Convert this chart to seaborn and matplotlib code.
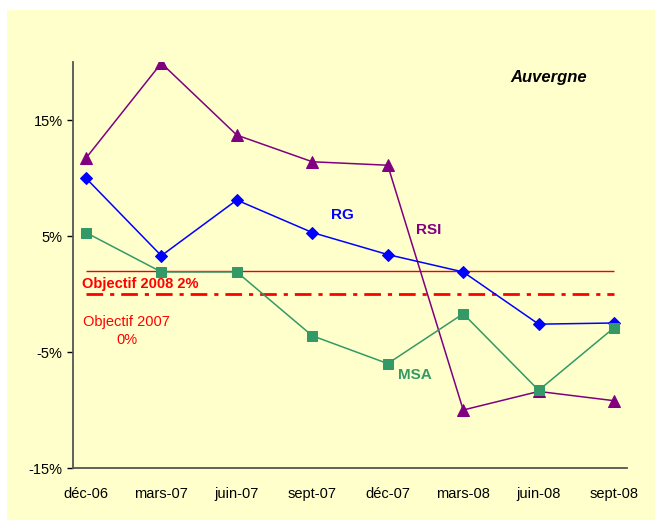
import matplotlib
matplotlib.use("Agg")
import matplotlib.pyplot as plt
import matplotlib.patches as mpatches
import seaborn as sns
import pandas as pd
import numpy as np

periods = ["déc-06", "mars-07", "juin-07", "sept-07", "déc-07", "mars-08", "juin-08", "sept-08"]
rsi = [11.7, 19.9, 13.7, 11.4, 11.1, -10.0, -8.4, -9.2]
rg = [10.0, 3.3, 8.1, 5.3, 3.4, 1.9, -2.6, -2.5]
msa = [5.3, 1.9, 1.9, -3.6, -6.0, -1.7, -8.3, -2.9]
objectif_2008 = 2.0
objectif_2007 = 0.0
yticks = [-15, -5, 5, 15]

sns.set_theme(style="white")
plt.rcParams["font.family"] = ["Liberation Sans", "DejaVu Sans"]

bg = "#FFFFCC"
fig = plt.figure(figsize=(6.55, 5.2), dpi=100)
fig.patch.set_facecolor("white")
fig.patches.append(mpatches.Rectangle((7 / 655, 0), 1 - 7 / 655, 1 - 10 / 520,
                                      transform=fig.transFigure, facecolor=bg,
                                      edgecolor="none", zorder=-10))
ax = fig.add_axes([73 / 655, 1 - 468 / 520, (627 - 73) / 655, (468 - 62) / 520])
ax.set_facecolor(bg)

x = np.arange(len(periods))
df = pd.DataFrame({"x": np.tile(x, 3),
                   "v": rsi + rg + msa,
                   "s": ["RSI"] * 8 + ["RG"] * 8 + ["MSA"] * 8})

styles = {"RSI": ("#800080", "^", 8), "RG": ("#0000FF", "D", 6), "MSA": ("#339966", "s", 6.5)}
for name, (col, mk, ms) in styles.items():
    sub = df[df["s"] == name]
    sns.lineplot(data=sub, x="x", y="v", ax=ax, color=col, marker=mk, markersize=ms,
                 markeredgecolor=col, linewidth=1.1, legend=False, zorder=3)

ax.hlines(objectif_2008, 0, len(periods) - 1, color="#E8000B", linewidth=1.0, zorder=2)
ax.hlines(objectif_2007, 0, len(periods) - 1, color="#FF0000", linewidth=2.0,
          linestyles=(0, (6, 2.5, 1.5, 2.5)), zorder=2)

ax.set_xlim(-0.17, 7.17)
ax.set_ylim(-15, 20)
ax.set_xticks(x)
ax.set_xticklabels(periods)
ax.set_yticks(yticks)
ax.set_yticklabels([f"{t}%" for t in yticks])
ax.tick_params(axis="x", length=0, labelsize=10.5, pad=14, colors="black")
ax.tick_params(axis="y", length=4, width=1, direction="out", labelsize=10.5, colors="black", left=True)
ax.set_xlabel("")
ax.set_ylabel("")
for side in ["top", "right"]:
    ax.spines[side].set_visible(False)
for side in ["left", "bottom"]:
    ax.spines[side].set_color("#555555")
    ax.spines[side].set_linewidth(1.3)

ax.text(3.4, 6.8, "RG", color="#0000FF", fontsize=11, fontweight="bold", ha="center", va="center")
ax.text(4.54, 5.5, "RSI", color="#800080", fontsize=11, fontweight="bold", ha="center", va="center")
ax.text(4.36, -7.0, "MSA", color="#339966", fontsize=11, fontweight="bold", ha="center", va="center")
ax.text(6.13, 18.7, "Auvergne", color="black", fontsize=12, fontweight="bold", style="italic",
        ha="center", va="center")
ax.text(0.72, 0.9, "Objectif 2008 2%", color="#FF0000", fontsize=10.5, fontweight="bold",
        ha="center", va="center")
ax.text(0.54, -3.2, "Objectif 2007\n0%", color="#FF0000", fontsize=10.5,
        ha="center", va="center", linespacing=1.4)

fig.savefig("out.png", dpi=100, facecolor=fig.get_facecolor())
